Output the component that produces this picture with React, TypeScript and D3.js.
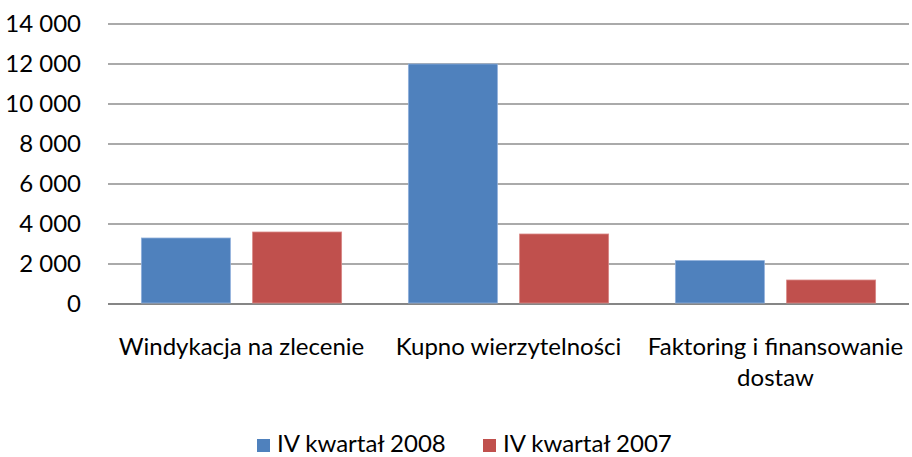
import React from "react";
import * as d3 from "d3";

const categories = ["Windykacja na zlecenie", "Kupno wierzytelności", "Faktoring i finansowanie dostaw"];
const categoryLines = [["Windykacja na zlecenie"], ["Kupno wierzytelności"], ["Faktoring i finansowanie", "dostaw"]];
const seriesNames = ["IV kwartał 2008", "IV kwartał 2007"];
const values2008 = [3300, 12000, 2170];
const values2007 = [3600, 3500, 1200];
const yTicks = [0, 2000, 4000, 6000, 8000, 10000, 12000, 14000];

const colors = ["#4F81BD", "#C0504D"];
const borders = ["#8FB0DB", "#D98785"];

const fmt = (v: number) => {
  const s = String(v);
  return s.length > 3 ? s.slice(0, s.length - 3) + " " + s.slice(-3) : s;
};

export default function App() {
  const width = 912;
  const height = 457;
  const left = 108;
  const right = 909;
  const top = 24;
  const bottom = 304;
  const font = "Lato, 'Open Sans', sans-serif";
  const fontSize = 24;

  const x = d3.scaleBand<string>().domain(categories).range([left, right]).padding(0);
  const bw = x.bandwidth();
  const x1 = d3
    .scaleBand<string>()
    .domain(seriesNames)
    .range([bw * 0.125, bw * 0.875])
    .paddingInner(0.2)
    .paddingOuter(0);
  const y = d3.scaleLinear().domain([0, 14000]).range([bottom, top]);

  const series = [values2008, values2007];

  // legend layout
  const legendY = 444;
  const legendX = [257, 483];

  return (
    <div style={{ position: "absolute", left: 0, top: 0 }}>
      <svg width={width} height={height} style={{ display: "block", background: "#fff" }}>
        {/* gridlines */}
        {yTicks.map((t) => (
          <line
            key={t}
            x1={left}
            x2={right}
            y1={y(t)}
            y2={y(t)}
            stroke={t === 0 ? "#868686" : "#8E8E8E"}
            strokeWidth={t === 0 ? 2 : 1.5}
          />
        ))}

        {/* y labels */}
        {yTicks.map((t) => (
          <text
            key={"l" + t}
            x={81}
            y={y(t)}
            dy="0.35em"
            textAnchor="end"
            fontFamily={font}
            fontSize={fontSize}
            fill="#000"
          >
            {fmt(t)}
          </text>
        ))}

        {/* bars */}
        {series.map((vals, si) =>
          categories.map((c, ci) => (
            <rect
              key={si + "-" + ci}
              x={(x(c) ?? 0) + (x1(seriesNames[si]) ?? 0)}
              y={y(vals[ci])}
              width={x1.bandwidth()}
              height={y(0) - y(vals[ci]) - 1}
              fill={colors[si]}
              stroke={borders[si]}
              strokeWidth={0.8}
            />
          ))
        )}

        {/* category labels */}
        {categories.map((c, ci) => (
          <text
            key={"c" + c}
            x={(x(c) ?? 0) + bw / 2}
            y={355}
            textAnchor="middle"
            fontFamily={font}
            fontSize={fontSize}
            fill="#000"
          >
            {categoryLines[ci].map((ln, li) => (
              <tspan key={li} x={(x(c) ?? 0) + bw / 2} dy={li === 0 ? 0 : 31}>
                {ln}
              </tspan>
            ))}
          </text>
        ))}

        {/* legend */}
        {seriesNames.map((s, si) => (
          <g key={s} transform={`translate(${legendX[si]},${legendY})`}>
            <rect x={0} y={-5} width={13} height={13} fill={colors[si]} />
            <text x={20} y={0} dy="0.35em" fontFamily={font} fontSize={fontSize} fill="#000">
              {s}
            </text>
          </g>
        ))}
      </svg>
    </div>
  );
}
